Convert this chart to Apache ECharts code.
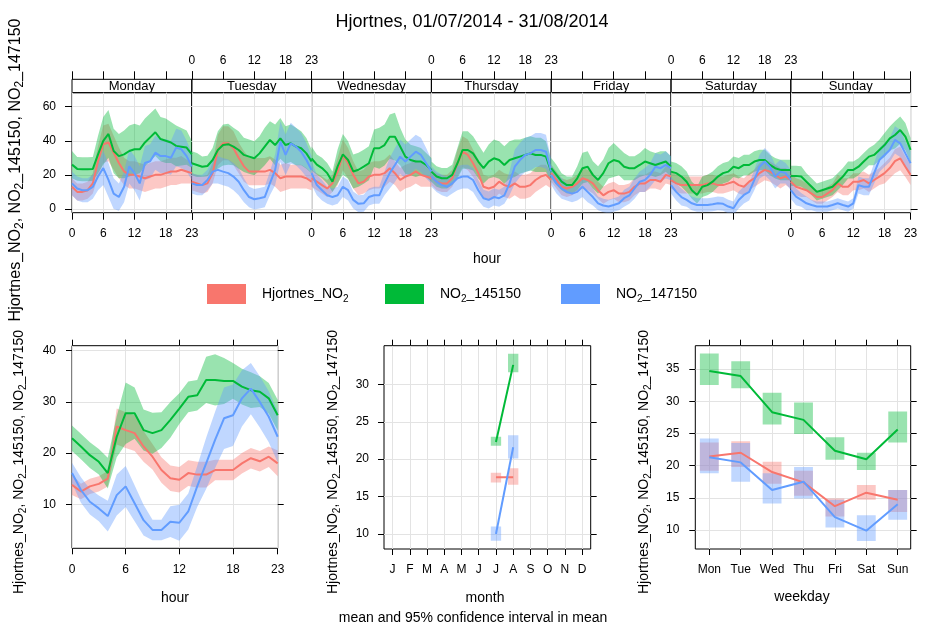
<!DOCTYPE html>
<html><head><meta charset="utf-8">
<script src="https://cdn.jsdelivr.net/npm/echarts@6/dist/echarts.min.js"></script>
<style>html,body{margin:0;padding:0;background:#fff}#c{width:932px;height:634px}</style>
</head><body><div id="c"></div>
<script>
// ---------------- DATA ----------------
const HOURS = [0,1,2,3,4,5,6,7,8,9,10,11,12,13,14,15,16,17,18,19,20,21,22,23];
const HOUR_TICKS = [0,6,12,18,23];
const DAYS = ['Monday','Tuesday','Wednesday','Thursday','Friday','Saturday','Sunday'];
const SERIES_NAMES = ['Hjortnes_NO2','NO2_145150','NO2_147150'];
const TOP_Y_TICKS = [0,20,40,60];
const HOUR_Y_TICKS = [10,20,30,40];
const MONTH_Y_TICKS = [10,15,20,25,30];
const WD_Y_TICKS = [10,15,20,25,30,35];
const MONTH_LABELS = ['J','F','M','A','M','J','J','A','S','O','N','D'];
const WEEKDAY_LABELS = ['Mon','Tue','Wed','Thu','Fri','Sat','Sun'];

// day x hour means (Mon..Sun)
const hjDayMean = [
 [13,10,10,11,15,28,38,39,33,27,22,20,20,19,18,19,20,20,21,22,22,23,22,21],
 [16,15,14,15,21,34.6,38.5,38.5,35.6,30,25,21.9,21.9,21.9,21.9,22.9,21,18,19,19,19,19,18,16],
 [18,16,14,12,15,21.9,31.7,26.8,20,15,16,19,20,20,21,23.9,21,17,19,20,22,20,19,18],
 [19,16,15,15,18,26.8,33.6,31.7,26.8,21,13,12,13,16,14,13,15,13,13,14,17,19,20,17],
 [21,17,13,12,13,15,18,17,15,11,8,10,11,9,9,10,13,15,15,17,17,16,20,19],
 [17,15,14,14,14,14,14,15,15,14,14,15,16,14,13,16,18,21,22.9,21.9,20,18,19,17],
 [16,13,12,11,9,7,7,9,11,15,13,13,16,16,17,15,17,19,21,24,28,29.7,24.8,20]
];
const hjDayHalf = [
 [5,5,5,5,6,9,11,11,10,9,8,8,8,8,8,8,8,8,8,8,8,8,7,6],
 [5,5,5,5,6,9,10,10,10,9,9,8,8,8,8,8,8,8,8,7,7,7,6,5],
 [5,5,5,5,5,8,9,9,8,7,7,8,8,8,8,8,7,7,7,7,7,7,6,5],
 [5,5,5,5,5,8,9,9,8,8,7,7,7,7,7,7,7,7,7,7,7,7,6,5],
 [5,5,5,5,5,5,6,6,6,5,5,5,5,5,5,5,5,5,5,5,5,5,5,5],
 [5,5,5,5,5,5,5,5,5,5,5,5,5,5,5,5,5,6,6,6,6,6,5,5],
 [5,5,5,4,4,4,4,4,4,5,5,5,5,5,5,5,5,5,6,6,7,7,6,6]
];
const n145DayMean = [
 [26,23.5,23.3,23.3,23.5,32,40,44,34,31,32,34,35,35,39,42,45,41,40,39,37,36.5,36,32],
 [26.8,25.8,24.8,25.2,28.7,34.6,37.5,38,36.6,34.6,31.7,30.7,29.7,32.6,36.6,40.5,37.5,41.4,37.5,38.5,36.6,35.6,32.6,27.8],
 [29.7,26,24,21,16,25,32,28.7,22,23,24.8,26.8,35.6,35.6,37.5,42.4,42.4,36.6,30.7,28.7,27.8,27.8,25.8,22.9],
 [21.9,19,18,18,20,26.8,34.6,34.6,32.6,27.8,23.9,27.8,29.7,28.7,25.8,28.7,29.7,30.7,31.7,32.6,31.7,31.7,30.7,21.9],
 [23.9,20,16,14,14,18,23.9,24.8,20,17,21,26.8,28.7,27.8,24.8,23.9,23.9,25.8,27.8,26.8,25.8,26.8,27.8,24.8],
 [21.9,21,19,16,11,8.2,13,14,16,19,21,21.9,24.8,23.9,25.8,25.8,27.8,28.7,28.7,25.8,23.9,22.9,22.9,22.9],
 [19.4,19.4,19,16,13,10,11,12,13,16,19,22.9,22.9,24.8,27.8,30.7,31.7,34.6,37.5,41.4,43.4,46.3,42.4,34.6]
];
const n145DayHalf = [
 [8,7,7,7,7,11,14,14,13,13,14,15,15,14,14,14,14,13,13,12,12,11,10,8],
 [7,7,6,6,7,11,12,12,11,11,10,10,10,10,11,11,12,12,11,11,11,10,9,7],
 [7,6,6,6,6,10,12,11,10,10,10,10,11,12,12,13,14,11,10,9,9,8,7,7],
 [6,6,6,6,6,9,11,11,10,10,9,10,11,11,11,11,11,10,10,10,10,10,9,7],
 [6,6,5,5,5,7,9,9,8,8,8,9,10,8,8,7,7,7,8,7,7,7,6,6],
 [6,6,6,6,5,5,6,6,6,6,6,6,6,6,6,6,6,6,6,6,6,6,6,6],
 [6,6,6,5,5,5,5,5,5,5,5,5,5,5,5,5,6,6,7,7,8,8,8,7]
];
const n147DayMean = [
 [15,12,11,11,13,19,24,17,9,7,13,25,21,15,27,28,33,31,31,30,36,35,31,25],
 [15,14,14,17,21.9,22.9,21.9,21,19,16,11,7,5.7,6.3,7,15,22.9,39.5,31.7,38.5,36.6,33.6,28.7,22.9],
 [21,14,11,8,7,8,13,11,5.3,3,3.3,7,8,8,15,21,25.8,30.7,27.8,30.7,33.6,31.7,26.8,21.9],
 [19,16,14,13,15,18,19,19,17,11,6.3,5.3,7,6.3,8,15,24.8,28.7,31.7,32.6,34.6,34.6,33.6,21.9],
 [20,15,12,10,9,10,13,10,7,3.3,2,1.4,2.3,3.3,6.3,8,12,16,17,20,24.8,23.9,25.8,23.9],
 [14,10,7,5.3,3.3,2.3,2.3,2.3,2.7,3.3,3,1.4,0.4,5.3,8.2,10,17,24.8,27.8,24.8,19,21.9,21,17],
 [11,7.2,5.3,3.3,2.3,1.4,1.4,1.4,2.3,3.3,2.3,1.4,3.3,14,13,13,21,28.7,31.7,34.6,40.5,38.5,32.6,26.8]
];
const n147DayHalf = [
 [7,7,7,7,7,8,10,10,9,8,9,10,10,10,10,10,10,10,10,10,11,11,9,8],
 [6,6,6,6,7,8,8,8,8,8,7,6,6,6,6,7,9,12,12,12,11,11,10,8],
 [7,6,6,5,5,5,6,6,5,5,5,5,5,5,7,9,10,10,10,10,10,10,9,7],
 [6,6,6,6,6,7,7,7,7,6,5,5,5,5,5,7,10,10,10,10,10,10,10,7],
 [6,6,6,5,5,5,6,6,5,4,4,4,4,4,5,5,6,6,7,7,8,8,8,7],
 [5,5,5,4,4,4,4,4,4,4,4,4,4,5,5,5,6,7,8,8,7,7,6,6],
 [5,5,4,4,3,3,3,3,3,3,3,3,3,5,5,5,6,7,7,7,8,8,7,7]
];

// overall hour
const hjHourMean = [13.8,12.5,13.5,14,15,25.2,24.5,23.9,21.3,19.3,16.7,15.1,14.8,16.1,15.8,15.8,16.7,16.7,16.7,18,19,18.4,19.3,18];
const hjHourHalf = [2,1.5,1.5,1.5,1.5,3.5,3.5,3.5,3,2.5,2.5,2.5,2.5,2.5,2.5,2.5,2,2,2,2,2,2,2,2.5];
const n145HourMean = [22.9,21.3,19.6,18.3,16.1,23.2,27.8,27.8,24.5,23.9,24.5,26.5,28.7,31,31.3,34.3,34.3,34.1,34.1,33,32.3,32,30.7,27.4];
const n145HourHalf = [2.5,2.5,2.5,2.5,3,4,6,5,4,4,3.5,3.5,3,3,3,4.5,5,4.5,3.5,3.5,3.5,3,3,3];
const n147HourMean = [16.1,12.8,10.5,9.2,7.7,11.8,13.5,10.2,6.9,5,5,6.6,6.4,8.6,13.5,18,22.6,26.8,27.4,30.7,32.6,30,27.1,23.2];
const n147HourHalf = [2,2.5,2.5,2.5,3,4,4,3.5,3,2,2,3,3.5,3.5,4,5,5.5,6,6,5.5,5,5,5,5];

// month (July, August)
const MONTHS_PRESENT = [7,8];
const hjMonthMean = [17.6,17.6], hjMonthLo = [16.9,16.6], hjMonthHi = [18.2,18.8];
const n145MonthMean = [22.3,32.6], n145MonthLo = [21.8,31.6], n145MonthHi = [23.0,34.1];
const n147MonthMean = [10.0,21.6], n147MonthLo = [9.1,20.1], n147MonthHi = [11.0,23.2];

// weekday (Mon..Sun)
const WD_POS = [1,2,3,4,5,6,7];
const hjWdMean = [21.4,22.0,19.0,17.4,13.7,15.8,14.7];
const hjWdLo = [19.2,19.8,17.2,15.3,12.1,14.7,12.8];
const hjWdHi = [23.6,23.8,20.6,19.2,14.9,17.0,16.2];
const n145WdMean = [34.7,33.9,28.3,27.1,22.3,21.0,25.6];
const n145WdLo = [32.5,32.0,26.4,24.9,20.9,19.3,23.6];
const n145WdHi = [37.4,36.2,31.3,29.8,24.4,22.0,28.4];
const n147WdMean = [21.3,20.5,16.2,17.5,12.0,9.9,14.0];
const n147WdLo = [18.8,17.5,14.1,14.9,10.4,8.3,11.6];
const n147WdHi = [24.2,23.5,18.8,19.8,14.7,12.3,16.2];

// ---------------- STYLE / LAYOUT ----------------
const FONT = '"Liberation Sans", Arial, sans-serif';
const COLORS = ['#F8766D','#00BA38','#619CFF'];
const BANDS = ['rgba(248,118,109,0.4)','rgba(0,186,56,0.4)','rgba(97,156,255,0.4)'];
const GRIDC = '#e3e3e3';
const DAY_LEFT = 72, DAY_W = 119.8, DAY_TOP = 92.7, DAY_H = 120, STRIP_TOP = 79.3;

const dayMeans = [hjDayMean, n145DayMean, n147DayMean];
const dayHalfs = [hjDayHalf, n145DayHalf, n147DayHalf];
const hourMeans = [hjHourMean, n145HourMean, n147HourMean];
const hourHalfs = [hjHourHalf, n145HourHalf, n147HourHalf];
const monthStats = [[hjMonthMean,hjMonthLo,hjMonthHi],[n145MonthMean,n145MonthLo,n145MonthHi],[n147MonthMean,n147MonthLo,n147MonthHi]];
const wdStats = [[hjWdMean,hjWdLo,hjWdHi],[n145WdMean,n145WdLo,n145WdHi],[n147WdMean,n147WdLo,n147WdHi]];

const option = {animation:false, backgroundColor:'#fff', grid:[], xAxis:[], yAxis:[], series:[], legend:[], graphic:[]};

function gridDef(left, top, width, height, border) {
  return {left, top, width, height, show:true, borderColor: border ? '#000' : 'transparent', borderWidth:1,
          backgroundColor:'transparent', containLabel:false, outerBoundsMode:'none'};
}
function valAxis(gi, pos, min, max, ticks, o) {
  o = o || {};
  return {
    type:'value', gridIndex:gi, position:pos, min, max,
    axisLine:{show:false, onZero:false},
    axisTick:{show:o.tick!==false, customValues:ticks, length:o.len||7, inside:false, lineStyle:{color:'#000', width:1}},
    axisLabel:{show:!!o.label, customValues:ticks, fontSize:12, color:'#000', fontFamily:FONT, margin:o.margin||15,
               formatter:o.fmt||(v=>String(v)), hideOverlap:false},
    splitLine:{show:!!o.split, lineStyle:{color:GRIDC, width:1}},
    show:o.show!==false
  };
}
function band(xi, yi, xs, mean, half, color) {
  return {type:'custom', xAxisIndex:xi, yAxisIndex:yi, clip:true, silent:true, data:[[xs[0], mean[0]]],
    renderItem:function(p, api){
      const pts = [];
      for (let i=0;i<xs.length;i++) pts.push(api.coord([xs[i], mean[i]+half[i]]));
      for (let i=xs.length-1;i>=0;i--) pts.push(api.coord([xs[i], mean[i]-half[i]]));
      return {type:'polygon', shape:{points:pts}, style:{fill:color}};
    }};
}
function boxes(xi, yi, xs, lo, hi, color) {
  return {type:'custom', xAxisIndex:xi, yAxisIndex:yi, clip:true, silent:true,
    encode:{x:0, y:[1,2]},
    data: xs.map((x,i)=>[x, lo[i], hi[i]]),
    renderItem:function(p, api){
      const x = api.value(0);
      const a = api.coord([x-0.3, api.value(2)]);
      const b = api.coord([x+0.3, api.value(1)]);
      return {type:'rect', shape:{x:a[0], y:a[1], width:b[0]-a[0], height:b[1]-a[1]}, style:{fill:color}};
    }};
}
function line(name, xi, yi, xs, ys, color) {
  return {type:'line', name, xAxisIndex:xi, yAxisIndex:yi, data: xs.map((x,i)=>[x, ys[i]]),
    symbol:'none', showSymbol:false, silent:true, clip:true,
    lineStyle:{color, width:2}, itemStyle:{color}};
}

// ---- top: 7 day panels (grids 0-6) and strips (grids 7-13)
for (let d=0; d<7; d++) {
  const left = DAY_LEFT + d*DAY_W;
  option.grid[d] = gridDef(left, DAY_TOP, DAY_W, DAY_H, true);
  option.grid[7+d] = gridDef(left, STRIP_TOP, DAY_W, DAY_TOP-STRIP_TOP, true);
}
for (let d=0; d<7; d++) {
  option.xAxis[d] = valAxis(d, 'bottom', 0, 23, HOUR_TICKS, {label: d%2===0, split:true, len:7, margin:15});
}
for (let d=0; d<7; d++) {
  option.xAxis[7+d] = valAxis(7+d, 'top', 0, 23, HOUR_TICKS, {label: d%2===1, split:false, len:8, margin:13});
}
for (let d=0; d<7; d++) {
  option.yAxis[d] = valAxis(d, 'left', -2.2, 68.2, TOP_Y_TICKS, {label: d===0, tick: d===0, split:true, margin:16});
}
for (let d=0; d<7; d++) {
  option.yAxis[7+d] = {type:'value', gridIndex:7+d, min:0, max:1, show:false};
}
option.yAxis[14] = valAxis(6, 'right', -2.2, 68.2, TOP_Y_TICKS, {label:false, split:false});

for (let d=0; d<7; d++) {
  for (let s=0; s<3; s++) {
    option.series.push(band(d, d, HOURS, dayMeans[s][d], dayHalfs[s][d], BANDS[s]));
    option.series.push(line(SERIES_NAMES[s], d, d, HOURS, dayMeans[s][d], COLORS[s]));
  }
}

// ---- bottom panels
option.grid[14] = gridDef(72, 345.7, 205.7, 202.6, true);
option.grid[15] = gridDef(384, 345.7, 206.7, 203.3, true);
option.grid[16] = gridDef(695.3, 345.7, 215.4, 203.3, true);

option.xAxis[14] = valAxis(14, 'bottom', 0, 23, HOUR_TICKS, {label:true, split:true, len:6, margin:15});
option.xAxis[15] = valAxis(14, 'top', 0, 23, HOUR_TICKS, {label:false, len:6});
const monthTicks = MONTH_LABELS.map((_,i)=>i+1);
option.xAxis[16] = valAxis(15, 'bottom', 0.5, 12.5, monthTicks, {label:true, split:true, len:6, margin:15, fmt:v=>MONTH_LABELS[Math.round(v)-1]});
option.xAxis[17] = valAxis(15, 'top', 0.5, 12.5, monthTicks, {label:false, len:6});
const wdTicks = WEEKDAY_LABELS.map((_,i)=>i+1);
option.xAxis[18] = valAxis(16, 'bottom', 0.554, 7.414, wdTicks, {label:true, split:true, len:6, margin:15, fmt:v=>WEEKDAY_LABELS[Math.round(v)-1]});
option.xAxis[19] = valAxis(16, 'top', 0.554, 7.414, wdTicks, {label:false, len:6});

option.yAxis[15] = valAxis(14, 'left', 1.41, 40.98, HOUR_Y_TICKS, {label:true, split:true, len:6, margin:16});
option.yAxis[16] = valAxis(14, 'right', 1.41, 40.98, HOUR_Y_TICKS, {label:false, len:6});
option.yAxis[17] = valAxis(15, 'left', 8.0, 35.16, MONTH_Y_TICKS, {label:true, split:true, len:6, margin:15});
option.yAxis[18] = valAxis(15, 'right', 8.0, 35.16, MONTH_Y_TICKS, {label:false, len:6});
option.yAxis[19] = valAxis(16, 'left', 7.05, 38.62, WD_Y_TICKS, {label:true, split:true, len:6, margin:16});
option.yAxis[20] = valAxis(16, 'right', 7.05, 38.62, WD_Y_TICKS, {label:false, len:6});

for (let s=0; s<3; s++) {
  option.series.push(band(14, 15, HOURS, hourMeans[s], hourHalfs[s], BANDS[s]));
  option.series.push(line(SERIES_NAMES[s], 14, 15, HOURS, hourMeans[s], COLORS[s]));
}
for (let s=0; s<3; s++) {
  option.series.push(boxes(16, 17, MONTHS_PRESENT, monthStats[s][1], monthStats[s][2], BANDS[s]));
  option.series.push(line(SERIES_NAMES[s], 16, 17, MONTHS_PRESENT, monthStats[s][0], COLORS[s]));
}
for (let s=0; s<3; s++) {
  option.series.push(boxes(18, 19, WD_POS, wdStats[s][1], wdStats[s][2], BANDS[s]));
  option.series.push(line(SERIES_NAMES[s], 18, 19, WD_POS, wdStats[s][0], COLORS[s]));
}

// ---- legends
const RICH_NAMES = {
  'Hjortnes_NO2':'{a|Hjortnes_NO}{s|2}',
  'NO2_145150':'{a|NO}{s|2}{n|_145150}',
  'NO2_147150':'{a|NO}{s|2}{n|_147150}'
};
const legendLeft = [207, 385, 561];
for (let s=0; s<3; s++) {
  option.legend.push({
    data:[SERIES_NAMES[s]], left:legendLeft[s], top:284, orient:'horizontal',
    itemWidth:39, itemHeight:20, icon:'rect', selectedMode:false, padding:0,
    itemStyle:{color:COLORS[s], borderWidth:0},
    formatter: n => RICH_NAMES[n],
    textStyle:{fontFamily:FONT, fontSize:14, color:'#000',
      rich:{a:{fontFamily:FONT, fontSize:14, color:'#000', padding:[0,0,0,11], lineHeight:20},
            n:{fontFamily:FONT, fontSize:14, color:'#000', lineHeight:20},
            s:{fontFamily:FONT, fontSize:10, color:'#000', lineHeight:10, verticalAlign:'bottom'}}}
  });
}

// ---- texts
function txt(text, x, y, size, rot) {
  return {type:'text', x, y, rotation: rot||0, silent:true,
    style:{text, fill:'#000', font: size+'px '+FONT, align:'center', verticalAlign:'middle'}};
}
const YLAB = '{n|Hjortnes_NO}{s|2}{n|, NO}{s|2}{n|_145150, NO}{s|2}{n|_147150}';
function ylab(x, y, fs) {
  return {type:'text', x, y, rotation: Math.PI/2, silent:true,
    style:{text:YLAB, align:'center', verticalAlign:'middle', fill:'#000',
      rich:{n:{fontFamily:FONT, fontSize:fs, fill:'#000', lineHeight:fs+4},
            s:{fontFamily:FONT, fontSize:Math.round(fs*0.72), fill:'#000', lineHeight:Math.round(fs*0.72), verticalAlign:'bottom'}}}};
}
option.graphic.push(txt('Hjortnes, 01/07/2014 - 31/08/2014', 472, 22, 18));
option.graphic.push(txt('hour', 487, 259, 14));
option.graphic.push(txt('hour', 175, 598, 14));
option.graphic.push(txt('month', 485, 598, 14));
option.graphic.push(txt('weekday', 802, 597, 14));
option.graphic.push(txt('mean and 95% confidence interval in mean', 473, 618, 14));
for (let d=0; d<7; d++) {
  option.graphic.push(txt(DAYS[d], DAY_LEFT + d*DAY_W + DAY_W/2, (STRIP_TOP+DAY_TOP)/2, 13));
}
option.graphic.push(ylab(16, 170, 16));
option.graphic.push(ylab(19, 462, 14));
option.graphic.push(ylab(333, 462, 14));
option.graphic.push(ylab(644, 462, 14));

const chart = echarts.init(document.getElementById('c'), null, {renderer:'canvas'});
chart.setOption(option);
</script></body></html>
